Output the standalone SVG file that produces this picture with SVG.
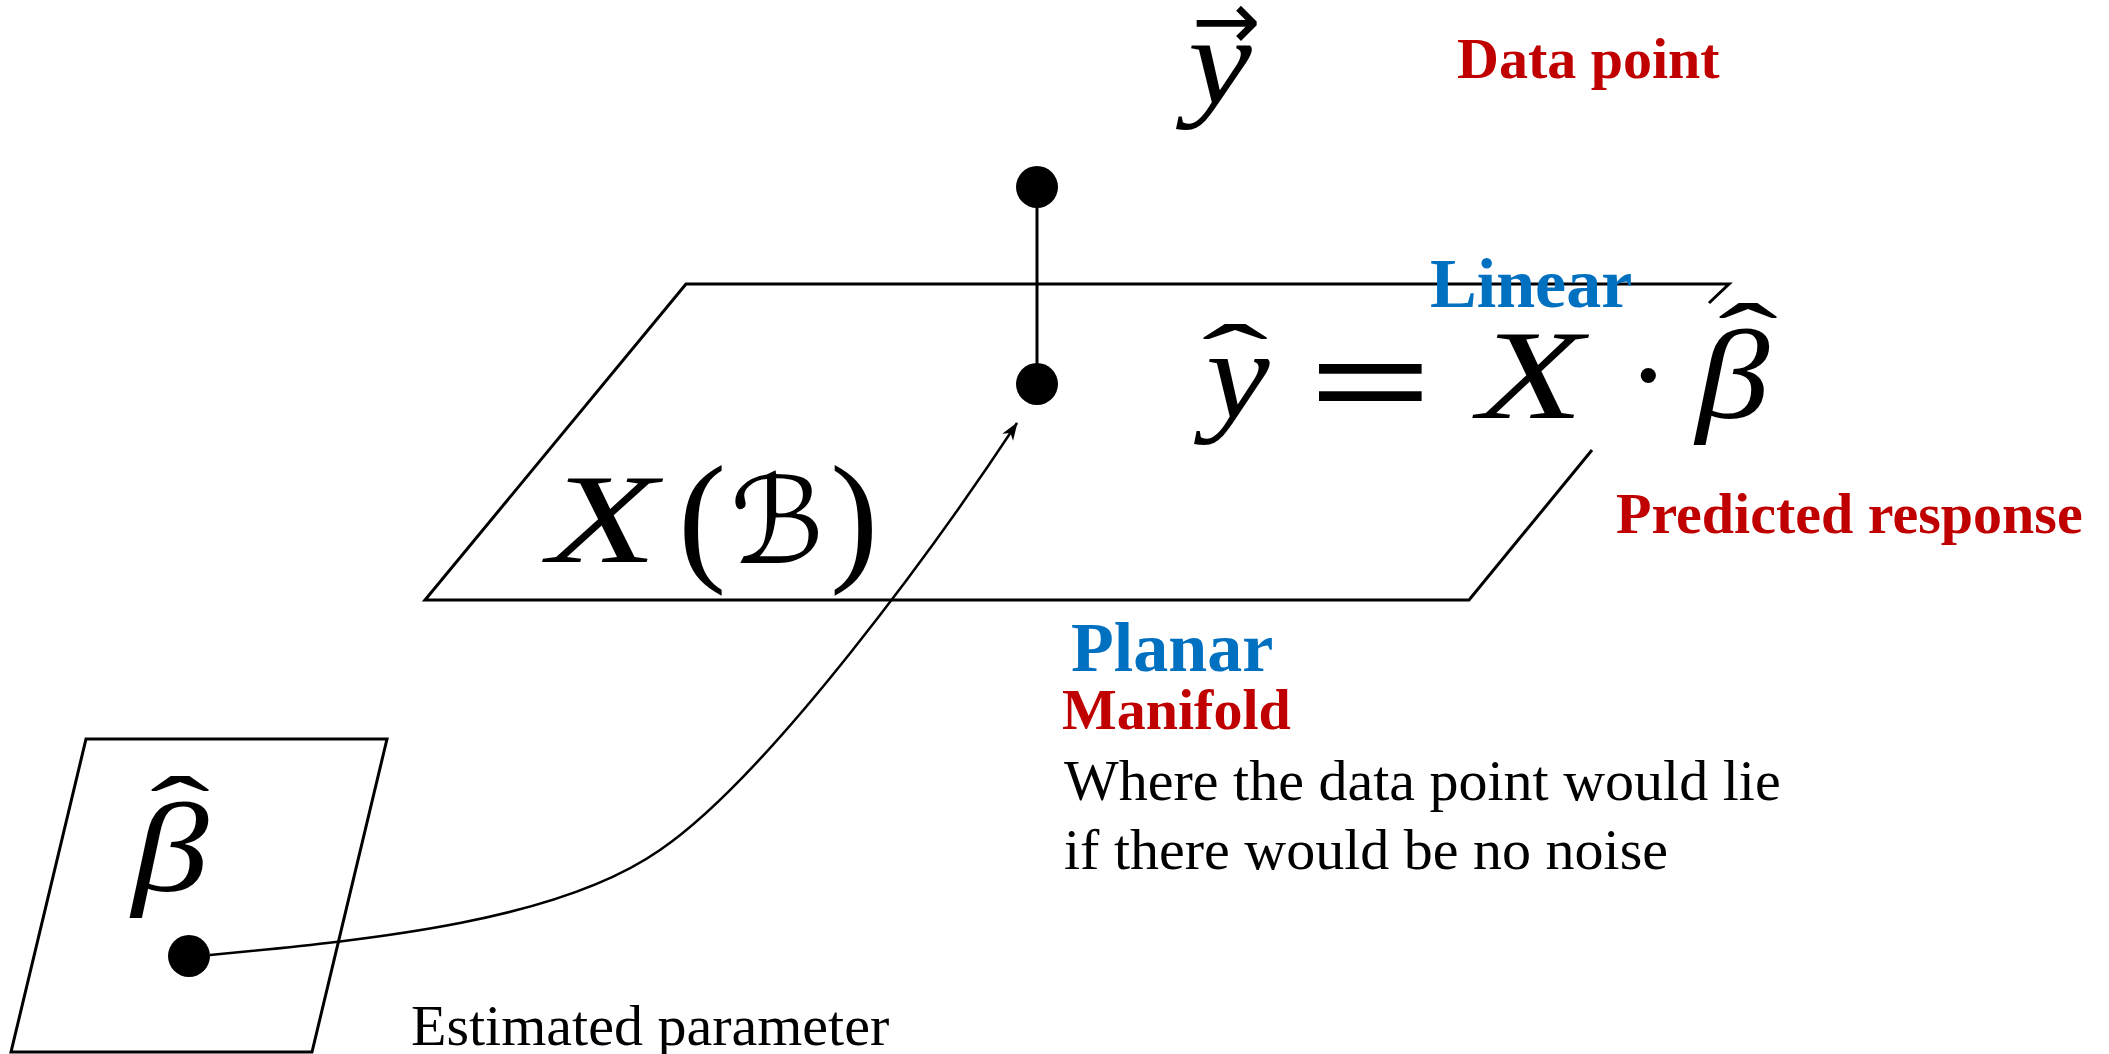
<svg xmlns="http://www.w3.org/2000/svg" width="2109" height="1054" viewBox="0 0 2109 1054">
<style>
.edge{fill:none;stroke:#000;stroke-width:3;stroke-linejoin:miter}
.conn{fill:none;stroke:#000;stroke-width:2.5}
.dot{fill:#000}
.lbl{font-family:"Liberation Serif","Times New Roman",serif;font-weight:bold}
.red{fill:#C00000}
.blue{fill:#0070C0}
.txt{font-family:"Liberation Serif","Times New Roman",serif;fill:#000;font-size:58px}
.math{font-family:"Liberation Serif","Times New Roman",serif;font-style:italic;fill:#000}
.mrm{font-family:"Liberation Serif","Times New Roman",serif;fill:#000}
.hat{font-family:"Liberation Serif","Times New Roman",serif;fill:#000;font-size:100px}
</style>
<defs>
<marker id="arrow" markerUnits="userSpaceOnUse" markerWidth="22" markerHeight="16" viewBox="-19 -8 22 16" refX="0" refY="0" orient="auto">
<path d="M1,0 L-17,-6.5 L-12,0 L-17,6.5 Z" fill="#000"/>
</marker>
</defs>
<rect width="2109" height="1054" fill="#fff"/>

<g id="plane">
<path class="edge" d="M1592,450 L1469,600 L425,600 L686,284 L1729,284 L1709,303"/>
<text class="math" transform="translate(548,562) scale(1.4,1)" font-size="128">X</text>
<text class="mrm" x="678" y="565" font-size="145">(</text>
<text x="730" y="563" font-size="120" font-family="DejaVu Serif, DejaVu Sans, serif" fill="#000">ℬ</text>
<text class="mrm" x="830" y="565" font-size="145">)</text>
</g>

<g id="param-space">
<path class="edge" d="M86,739 L387,739 L312,1052 L11,1052 Z"/>
<text class="math" transform="translate(132,891) scale(1.2,1)" font-size="128">β</text>
<text class="hat" transform="translate(180,846) scale(1.8,1)" text-anchor="middle">ˆ</text>
</g>

<g id="connectors">
<line class="conn" x1="1037" y1="187" x2="1037" y2="384" style="stroke-width:3"/>
<path class="conn" marker-end="url(#arrow)" d="M210,955 C380,939 560,920 660,850 C770,775 940,540 1017,423"/>
</g>

<g id="data-point">
<circle class="dot" cx="1037" cy="187" r="21"/>
<text class="math" transform="translate(1188,103) scale(1.15,1)" font-size="125">y</text>
<text x="1226" y="49" font-size="82" font-family="DejaVu Sans, sans-serif" fill="#000" text-anchor="middle">→</text>
<text class="lbl red" x="1457" y="78" font-size="58">Data point</text>
</g>

<g id="projection-point">
<circle class="dot" cx="1037" cy="384" r="21"/>
</g>

<g id="param-point">
<circle class="dot" cx="189" cy="956" r="21"/>
<text class="txt" x="411" y="1045">Estimated parameter</text>
</g>

<g id="formula">
<text class="math" transform="translate(1206,418) scale(1.12,1)" font-size="128">y</text>
<text class="hat" transform="translate(1235,394) scale(2,1)" text-anchor="middle">ˆ</text>
<text class="mrm" transform="translate(1308,428) scale(1.6,1)" font-size="138" font-weight="bold">=</text>
<text class="math" transform="translate(1478,418) scale(1.35,1)" font-size="128">X</text>
<text class="mrm" x="1627" y="418" font-size="128">·</text>
<text class="math" transform="translate(1696,418) scale(1.15,1)" font-size="128">β</text>
<text class="hat" transform="translate(1748,373) scale(1.8,1)" text-anchor="middle">ˆ</text>
</g>

<g id="labels">
<text class="lbl blue" x="1430" y="307" font-size="70">Linear</text>
<text class="lbl red" x="1616" y="533" font-size="58">Predicted response</text>
<text class="lbl blue" x="1071" y="671" font-size="70">Planar</text>
<text class="lbl red" x="1062" y="729" font-size="58">Manifold</text>
<text class="txt" x="1064" y="800">Where the data point would lie</text>
<text class="txt" x="1064" y="869">if there would be no noise</text>
</g>
</svg>
